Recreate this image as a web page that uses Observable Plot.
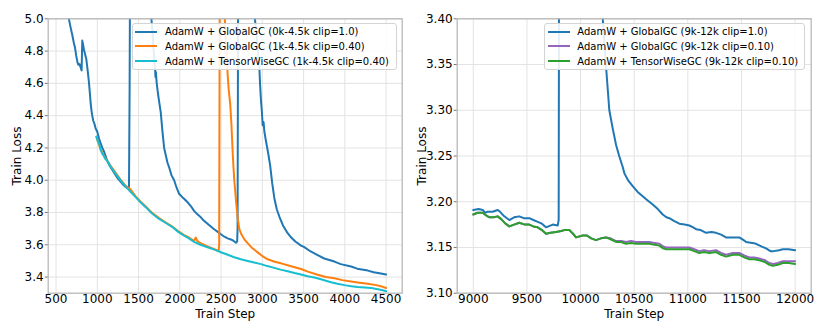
<!DOCTYPE html>
<html><head><meta charset="utf-8">
<script src="https://cdn.jsdelivr.net/npm/d3@7"></script>
<script src="https://cdn.jsdelivr.net/npm/@observablehq/plot@0.6"></script>
<style>
body{margin:0;background:#fff;font-family:"DejaVu Sans",sans-serif;}
#wrap{position:relative;width:830px;height:332px;overflow:hidden;}
.panel{position:absolute;top:0;}
.legend{position:absolute;box-sizing:border-box;border:1px solid #d4d4d4;border-radius:3px;background:rgba(255,255,255,0.88);font:10px "DejaVu Sans",sans-serif;color:#000;}
.row{position:absolute;left:0;height:14px;display:flex;align-items:center;white-space:nowrap;}
.sw{height:2px;}
</style></head>
<body><div id="wrap"></div>
<script>
// ---------- Left panel data ----------
const leftTicksX = [500,1000,1500,2000,2500,3000,3500,4000,4500];
const leftTicksY = [3.4,3.6,3.8,4.0,4.2,4.4,4.6,4.8,5.0];
const leftLabels = ["AdamW + GlobalGC (0k-4.5k clip=1.0)","AdamW + GlobalGC (1k-4.5k clip=0.40)","AdamW + TensorWiseGC (1k-4.5k clip=0.40)"];

const blueLeftStep = [600,648,675,697,716,730,745,760,770,785,797,810,818,828,838,852,867,883,898,910,919,930,939,950,965,980,1000,1020,1040,1061,1080,1101,1120,1150,1200,1250,1300,1340,1384,1392,1398,1640,1656,1670,1688,1700,1705,1710,1720,1740,1769,1790,1810,1830,1850,1870,1900,1931,1960,1991,2030,2052,2100,2133,2173,2210,2255,2290,2336,2376,2420,2460,2498,2540,2580,2619,2650,2680,2695,2700,2708,2900,2910,2930,2950,2963,2972,2983,2995,3004,3015,3025,3045,3070,3095,3120,3145,3175,3206,3250,3307,3350,3400,3469,3509,3580,3671,3750,3874,3950,4076,4150,4279,4350,4420,4500];
const blueLeftLoss = [5.25,5.02,4.95,4.90,4.85,4.82,4.77,4.73,4.715,4.72,4.70,4.68,4.865,4.84,4.81,4.78,4.75,4.68,4.61,4.54,4.48,4.43,4.40,4.37,4.35,4.32,4.30,4.26,4.23,4.20,4.18,4.15,4.12,4.09,4.05,4.01,3.98,3.96,3.945,4.60,5.5,5.5,5.0,4.90,4.77,4.70,4.64,4.67,4.60,4.52,4.42,4.30,4.20,4.155,4.11,4.08,4.03,4.00,3.955,3.916,3.895,3.885,3.86,3.84,3.81,3.79,3.77,3.75,3.73,3.713,3.695,3.68,3.665,3.65,3.64,3.633,3.625,3.613,3.62,3.70,5.5,5.5,5.0,4.90,4.78,4.71,4.60,4.50,4.42,4.34,4.36,4.30,4.24,4.17,4.09,3.98,3.89,3.82,3.775,3.72,3.672,3.645,3.62,3.595,3.585,3.56,3.536,3.515,3.496,3.48,3.465,3.452,3.44,3.43,3.424,3.416];

const orangeLeftStep = [990,1000,1040,1100,1160,1223,1280,1344,1400,1465,1520,1587,1660,1749,1830,1911,1980,2052,2110,2173,2194,2210,2250,2336,2420,2470,2477,2485,2535,2545,2565,2580,2593,2611,2625,2640,2648,2660,2680,2700,2720,2741,2780,2822,2880,2943,3000,3065,3150,3226,3360,3469,3560,3671,3770,3874,3970,4076,4157,4279,4380,4450,4500];
const orangeLeftLoss = [4.27,4.25,4.19,4.135,4.09,4.045,4.005,3.965,3.945,3.90,3.87,3.838,3.80,3.765,3.738,3.712,3.685,3.66,3.645,3.625,3.645,3.625,3.61,3.59,3.572,3.562,3.60,5.5,5.5,5.0,4.80,4.65,4.56,4.47,4.35,4.18,4.10,4.00,3.88,3.77,3.70,3.67,3.635,3.61,3.578,3.553,3.53,3.51,3.495,3.485,3.465,3.45,3.432,3.414,3.40,3.393,3.381,3.372,3.366,3.358,3.35,3.341,3.332];

const tealLeftStep = [990,1000,1020,1040,1060,1080,1100,1122,1160,1223,1280,1344,1400,1465,1520,1587,1660,1749,1830,1911,1980,2052,2110,2173,2250,2336,2420,2498,2580,2660,2740,2822,2900,2984,3060,3145,3220,3307,3390,3469,3550,3630,3700,3780,3833,3910,3995,4080,4157,4240,4319,4400,4460,4500];
const tealLeftLoss = [4.27,4.25,4.23,4.19,4.165,4.15,4.13,4.12,4.085,4.04,4.00,3.96,3.93,3.895,3.865,3.833,3.795,3.76,3.735,3.71,3.68,3.657,3.64,3.618,3.60,3.585,3.57,3.554,3.538,3.523,3.51,3.50,3.49,3.48,3.468,3.457,3.446,3.436,3.425,3.416,3.405,3.397,3.388,3.376,3.368,3.358,3.35,3.343,3.338,3.335,3.332,3.325,3.318,3.312];

// ---------- Right panel data ----------
const rightTicksX = [9000,9500,10000,10500,11000,11500,12000];
const rightTicksY = [3.10,3.15,3.20,3.25,3.30,3.35,3.40];
const rightLabels = ["AdamW + GlobalGC (9k-12k clip=1.0)","AdamW + GlobalGC (9k-12k clip=0.10)","AdamW + TensorWiseGC (9k-12k clip=0.10)"];

const blueRightStep = [9000,9050,9088,9110,9134,9180,9228,9250,9280,9336,9380,9429,9470,9522,9560,9601,9640,9678,9741,9787,9796,9800,10200,10207,10238,10268,10300,10331,10360,10393,10409,10440,10486,10530,10579,10620,10673,10720,10766,10800,10828,10870,10921,10970,11014,11050,11077,11120,11170,11220,11263,11310,11356,11420,11480,11520,11543,11600,11636,11690,11729,11770,11800,11850,11885,11940,12000];
const blueRightLoss = [3.191,3.192,3.191,3.188,3.189,3.189,3.191,3.189,3.185,3.180,3.183,3.184,3.182,3.182,3.180,3.178,3.176,3.172,3.175,3.174,3.18,3.50,3.50,3.40,3.347,3.30,3.28,3.262,3.25,3.238,3.231,3.224,3.217,3.211,3.206,3.202,3.197,3.192,3.186,3.183,3.182,3.179,3.176,3.175,3.174,3.172,3.170,3.169,3.166,3.167,3.166,3.164,3.161,3.161,3.161,3.158,3.156,3.155,3.154,3.151,3.149,3.146,3.146,3.147,3.148,3.148,3.147];

const purpleRightStep = [9000,9040,9088,9120,9150,9190,9228,9260,9300,9336,9380,9429,9480,9522,9560,9600,9640,9678,9720,9771,9820,9849,9895,9930,9958,10020,10060,10100,10144,10190,10238,10280,10331,10380,10424,10470,10517,10580,10641,10690,10735,10770,10797,10850,10921,10970,11014,11060,11107,11150,11201,11263,11310,11356,11420,11480,11530,11574,11620,11667,11720,11760,11792,11840,11885,11940,12000];
const purpleRightLoss = [3.186,3.188,3.188,3.185,3.183,3.183,3.184,3.181,3.176,3.173,3.175,3.177,3.175,3.175,3.173,3.172,3.169,3.165,3.166,3.167,3.168,3.169,3.169,3.165,3.161,3.163,3.163,3.160,3.158,3.160,3.161,3.160,3.157,3.157,3.156,3.157,3.156,3.156,3.156,3.155,3.154,3.151,3.150,3.150,3.150,3.150,3.150,3.148,3.146,3.147,3.146,3.147,3.144,3.142,3.144,3.144,3.141,3.139,3.139,3.138,3.136,3.133,3.132,3.133,3.135,3.135,3.135];

const greenRightStep = [9000,9040,9088,9120,9150,9190,9228,9260,9300,9336,9380,9429,9480,9522,9560,9600,9640,9678,9720,9771,9820,9849,9895,9930,9958,10020,10060,10100,10144,10190,10238,10280,10331,10380,10424,10470,10517,10580,10641,10690,10735,10770,10797,10850,10921,10970,11014,11060,11107,11150,11201,11263,11310,11356,11420,11480,11530,11574,11620,11667,11720,11760,11792,11840,11885,11940,12000];
const greenRightLoss = [3.186,3.188,3.188,3.185,3.183,3.183,3.184,3.181,3.176,3.173,3.175,3.177,3.175,3.175,3.173,3.172,3.169,3.165,3.166,3.167,3.168,3.169,3.169,3.165,3.161,3.163,3.163,3.160,3.158,3.160,3.161,3.159,3.156,3.156,3.154,3.155,3.154,3.154,3.154,3.153,3.152,3.149,3.148,3.148,3.148,3.148,3.148,3.146,3.144,3.145,3.144,3.145,3.142,3.140,3.142,3.142,3.139,3.137,3.137,3.136,3.134,3.131,3.130,3.131,3.133,3.133,3.132];

const leftColors = ["#1f77b4","#ff7f0e","#17becf"];
const rightColors = ["#1f77b4","#9467bd","#2ca02c"];

function table(steps, losses, series){ return steps.map((s,i)=>({step:s, loss:losses[i], series})); }

const leftData = [
  ...table(blueLeftStep, blueLeftLoss, leftLabels[0]),
  ...table(orangeLeftStep, orangeLeftLoss, leftLabels[1]),
  ...table(tealLeftStep, tealLeftLoss, leftLabels[2])
];
const rightData = [
  ...table(blueRightStep, blueRightLoss, rightLabels[0]),
  ...table(purpleRightStep, purpleRightLoss, rightLabels[1]),
  ...table(greenRightStep, greenRightLoss, rightLabels[2])
];

function panel(opts){
  const {data, labels, colors, xDomain, yDomain, xTicks, yTicks, yFmt, width, mL, mR} = opts;
  return Plot.plot({
    width, height:332, marginLeft:mL, marginRight:mR, marginTop:18.3, marginBottom:39.3,
    style:{fontFamily:"DejaVu Sans, sans-serif", fontSize:"12px", color:"#000", background:"transparent", overflow:"visible"},
    x:{domain:xDomain, label:null},
    y:{domain:yDomain, label:null},
    color:{domain:labels, range:colors},
    marks:[
      Plot.gridX(xTicks, {stroke:"#e3e3e3", strokeOpacity:1, strokeWidth:1}),
      Plot.gridY(yTicks, {stroke:"#e3e3e3", strokeOpacity:1, strokeWidth:1}),
      Plot.line(data, {x:"step", y:"loss", z:"series", stroke:"series", strokeWidth:2, clip:true, curve:"linear"}),
      Plot.frame({stroke:"#b8b8b8", strokeWidth:1.3}),
      Plot.axisX(xTicks, {tickSize:0, tickPadding:1.5, tickFormat:d=>String(d), fontSize:12, label:null}),
      Plot.axisY(yTicks, {tickSize:3, tickPadding:1.5, tickFormat:yFmt, fontSize:12, stroke:"#777", label:null}),
      Plot.text(["Train Step"], {frameAnchor:"bottom", dy:21, lineAnchor:"middle", fontSize:12}),
      Plot.text(["Train Loss"], {frameAnchor:"left", dx:-(mL-17), rotate:-90, lineAnchor:"middle", textAnchor:"middle", fontSize:12})
    ]
  });
}

const wrap = document.getElementById("wrap");

const left = panel({data:leftData, labels:leftLabels, colors:leftColors, xDomain:[405,4695], yDomain:[3.3,5.0],
  xTicks:leftTicksX, yTicks:leftTicksY, yFmt:d=>d.toFixed(1), width:415, mL:47.7, mR:13.3});
left.classList.add("panel"); left.style.left="0px";
wrap.appendChild(left);

const right = panel({data:rightData, labels:rightLabels, colors:rightColors, xDomain:[8850,12150], yDomain:[3.10,3.40],
  xTicks:rightTicksX, yTicks:rightTicksY, yFmt:d=>d.toFixed(2), width:425, mL:51.7, mR:19.3});
right.classList.add("panel"); right.style.left="405px";
wrap.appendChild(right);

function legend(labels, colors, box){
  const lg = document.createElement("div");
  lg.className = "legend";
  Object.assign(lg.style, {left:box.left+"px", top:box.top+"px", width:box.width+"px", height:box.height+"px"});
  labels.forEach((lab,i)=>{
    const row = document.createElement("div");
    row.className = "row";
    row.style.top = (9 + i*14.7 - 7 - 1) + "px";
    const sw = document.createElement("div");
    sw.className = "sw";
    sw.style.background = colors[i];
    sw.style.width = box.sw + "px";
    sw.style.marginLeft = box.swLeft + "px";
    sw.style.marginRight = box.gap + "px";
    const tx = document.createElement("span");
    tx.textContent = lab;
    row.appendChild(sw); row.appendChild(tx);
    lg.appendChild(row);
  });
  wrap.appendChild(lg);
}
legend(leftLabels, leftColors, {left:131.7, top:22.7, width:265, height:47.3, sw:21.7, swLeft:2.3, gap:8.3});
legend(rightLabels, rightColors, {left:544.3, top:22.7, width:260.7, height:47.3, sw:22.3, swLeft:2.4, gap:7.3});
</script>
</body></html>
